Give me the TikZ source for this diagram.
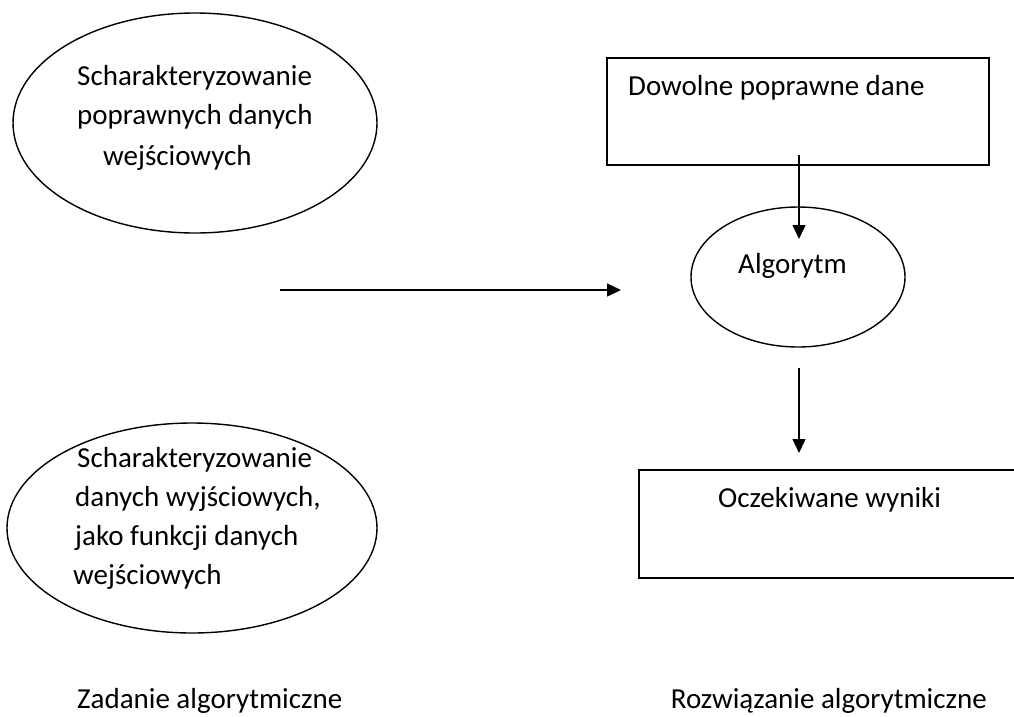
\documentclass[tikz,border=0pt]{standalone}
\usepackage{fontspec}
\setmainfont{Carlito}
\usetikzlibrary{arrows.meta,shapes.geometric}
\begin{document}
\begin{tikzpicture}[x=1pt,y=-1pt,
  line/.style={line width=1.4pt,draw=black},
  oval/.style={line, ellipse, inner sep=0pt},
  box/.style={line, rectangle, inner sep=0pt},
  txt/.style={inner sep=0pt, font=\fontsize{29}{35}\selectfont},
  arr/.style={line, -{Triangle[length=14pt,width=13pt]}}]
\useasboundingbox (0,0) rectangle (1014,716);
\begin{scope}
\clip (0,0) rectangle (1014,716);
% shapes
\node[oval, minimum width=364pt, minimum height=220pt] (e1) at (195,123) {};
\node[oval, minimum width=370pt, minimum height=210pt] (e2) at (192,528) {};
\node[box, minimum width=382pt, minimum height=107pt] (r1) at (798,111.5) {};
\node[oval, minimum width=214pt, minimum height=140pt] (alg) at (798,277) {};
\node[box, minimum width=400pt, minimum height=108pt] (r2) at (839,524) {};
\end{scope}
% texts
\node[txt, anchor=base west] (t1) at (77,85) {Scharakteryzowanie};
\node[txt, anchor=base west] (t2) at (77,124) {poprawnych danych};
\node[txt, anchor=base west] (t3) at (103,165) {wejściowych};
\node[txt, anchor=base west] (b1) at (77,467) {Scharakteryzowanie};
\node[txt, anchor=base west] (b2) at (75,506) {danych wyjściowych,};
\node[txt, anchor=base west] (b3) at (75,545) {jako funkcji danych};
\node[txt, anchor=base west] (b4) at (73,584) {wejściowych};
\node[txt, anchor=base west] (d) at (628,95) {Dowolne poprawne dane};
\node[txt, anchor=base west] (a) at (738,273) {Algorytm};
\node[txt, anchor=base west] (o) at (718,507) {Oczekiwane wyniki};
\node[txt, anchor=base west] (z) at (77,708) {Zadanie algorytmiczne};
\node[txt, anchor=base east] (r) at (987,708) {Rozwiązanie algorytmiczne};
% connectors
\coordinate (h1) at (280,290);
\coordinate (h2) at (621,290);
\draw[arr] (h1) -- (h2);
\coordinate (v1s) at (799,155);
\coordinate (v1e) at (799,239);
\draw[arr] (v1s) -- (v1e);
\coordinate (v2s) at (799,368);
\coordinate (v2e) at (799,453);
\draw[arr] (v2s) -- (v2e);
\end{tikzpicture}
\end{document}
